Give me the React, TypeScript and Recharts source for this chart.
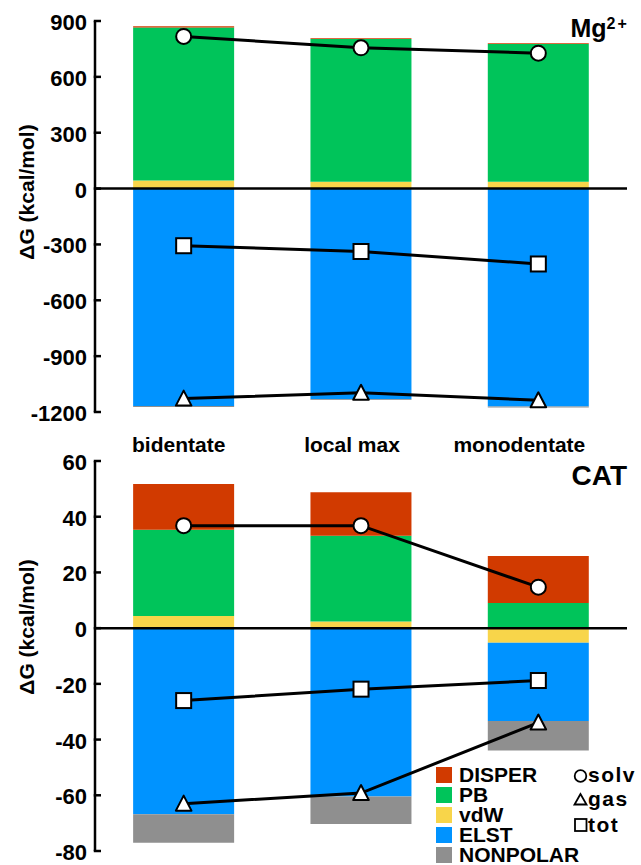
import React from 'react';
import { ComposedChart, Bar, Line, XAxis, YAxis, ReferenceLine } from 'recharts';

// Binding states along the pathway
const categories = ['bidentate', 'local max', 'monodentate'];

// Mg2+ free-energy decomposition (kcal/mol)
const mgDisper = [7, 5, 5];
const mgPB = [822, 767, 740];
const mgVdw = [43, 36, 36];
const mgElst = [-1168, -1131, -1171];
const mgNonpolar = [-5, -5, -5];
const mgSolv = [817, 756, 727];
const mgGas = [-1128, -1097, -1137];
const mgTot = [-307, -338, -405];

// CAT free-energy decomposition (kcal/mol)
const catDisper = [16.4, 15.6, 16.9];
const catPB = [30.9, 30.8, 9.0];
const catVdw = [4.4, 2.4, -5.2];
const catElst = [-66.8, -60.4, -28.1];
const catNonpolar = [-10.2, -9.9, -10.6];
const catSolv = [36.8, 36.8, 14.7];
const catGas = [-63.0, -59.2, -33.9];
const catTot = [-26.0, -21.9, -18.8];

// Axis ticks
const mgTicks = [-1200, -900, -600, -300, 0, 300, 600, 900];
const catTicks = [-80, -60, -40, -20, 0, 20, 40, 60];

// Energy terms, legend order
const terms = ['DISPER', 'PB', 'vdW', 'ELST', 'NONPOLAR'];
// Stacking order: nearest to zero first on each side
const stackOrder = ['vdW', 'ELST', 'NONPOLAR', 'PB', 'DISPER'];
const totals = ['solv', 'gas', 'tot'];

const COLORS: Record<string, string> = {
  DISPER: '#D13A00',
  PB: '#00C45A',
  vdW: '#F8D54A',
  ELST: '#0093FF',
  NONPOLAR: '#8F8F8F',
};

const FONT = '"Liberation Sans", Arial, Helvetica, sans-serif';
const LABEL_SHIFT = [-5, -9, -19];

function buildRows(
  disper: number[], pb: number[], vdw: number[], elst: number[], nonpolar: number[],
  solv: number[], gas: number[], tot: number[]
) {
  return categories.map((name, i) => ({
    name,
    DISPER: disper[i],
    PB: pb[i],
    vdW: vdw[i],
    ELST: elst[i],
    NONPOLAR: nonpolar[i],
    solv: solv[i],
    gas: gas[i],
    tot: tot[i],
  }));
}

const mgRows = buildRows(mgDisper, mgPB, mgVdw, mgElst, mgNonpolar, mgSolv, mgGas, mgTot);
const catRows = buildRows(catDisper, catPB, catVdw, catElst, catNonpolar, catSolv, catGas, catTot);

const YTick = (props: any) => {
  const { x, y, payload } = props;
  return (
    <g>
      <line x1={x - 1.25} x2={x + 6} y1={y} y2={y} stroke="#000" strokeWidth={2.5} />
      <text x={x - 8} y={y + 9} textAnchor="end" fontSize={22} fontWeight="bold" fontFamily={FONT} fill="#000">
        {payload.value}
      </text>
    </g>
  );
};

const XTick = (props: any) => {
  const { x, y, payload, index } = props;
  return (
    <text x={x + (LABEL_SHIFT[index] || 0)} y={y + 40} textAnchor="middle" fontSize={21} fontWeight="bold" fontFamily={FONT} fill="#000">
      {payload.value}
    </text>
  );
};

const CircleDot = (p: any) => {
  if (p.cx == null || p.cy == null) return null;
  return <circle key={`c${p.index}`} cx={p.cx} cy={p.cy} r={7.5} fill="#fff" stroke="#000" strokeWidth={2} />;
};

const TriangleDot = (p: any) => {
  if (p.cx == null || p.cy == null) return null;
  const { cx, cy } = p;
  return (
    <polygon
      key={`t${p.index}`}
      points={`${cx},${cy - 8} ${cx - 7.8},${cy + 7} ${cx + 7.8},${cy + 7}`}
      fill="#fff"
      stroke="#000"
      strokeWidth={2}
      strokeLinejoin="round"
    />
  );
};

const SquareDot = (p: any) => {
  if (p.cx == null || p.cy == null) return null;
  return <rect key={`s${p.index}`} x={p.cx - 7.5} y={p.cy - 7.5} width={15} height={15} fill="#fff" stroke="#000" strokeWidth={2} />;
};

const DOTS: Record<string, (p: any) => any> = { solv: CircleDot, gas: TriangleDot, tot: SquareDot };

function Panel({ rows, domain, ticks, height, margin, showCategories }: any) {
  return (
    <ComposedChart
      width={641}
      height={height}
      data={rows}
      margin={margin}
      stackOffset="sign"
      barCategoryGap="21.5%"
    >
      <XAxis
        dataKey="name"
        hide={!showCategories}
        height={48}
        axisLine={false}
        tickLine={false}
        tickSize={0}
        tickMargin={0}
        tick={(p: any) => <XTick {...p} />}
        interval={0}
      />
      <YAxis
        type="number"
        domain={domain}
        ticks={ticks}
        interval={0}
        width={95}
        axisLine={{ stroke: '#000', strokeWidth: 2.5 }}
        tickLine={false}
        tickSize={0}
        tickMargin={0}
        tick={(p: any) => <YTick {...p} />}
        allowDataOverflow
      />
      {stackOrder.map((k) => (
        <Bar key={k} dataKey={k} stackId="a" fill={COLORS[k]} isAnimationActive={false} />
      ))}
      <ReferenceLine y={0} stroke="#000" strokeWidth={2.5} />
      {totals.map((k) => (
        <Line
          key={k}
          type="linear"
          dataKey={k}
          stroke="#000"
          strokeWidth={3}
          dot={(p: any) => DOTS[k](p)}
          activeDot={false}
          isAnimationActive={false}
        />
      ))}
    </ComposedChart>
  );
}

function Overlay() {
  const textProps = { fontFamily: FONT, fontWeight: 'bold' as const, fill: '#000' };
  return (
    <svg width={641} height={865} style={{ position: 'absolute', left: 0, top: 0, pointerEvents: 'none' }}>
      {/* axis titles */}
      <text x={33.5} y={192} transform="rotate(-90 33.5 192)" textAnchor="middle" fontSize={21} {...textProps}>
        ΔG (kcal/mol)
      </text>
      <text x={33.5} y={627} transform="rotate(-90 33.5 627)" textAnchor="middle" fontSize={21} {...textProps}>
        ΔG (kcal/mol)
      </text>
      {/* panel names */}
      <text x={570.5} y={37.3} fontSize={25} {...textProps}>
        Mg<tspan dy={-8.8} fontSize={16} letterSpacing={2}>2+</tspan>
      </text>
      <text x={627} y={484.5} textAnchor="end" fontSize={28} {...textProps}>
        CAT
      </text>
      {/* term legend */}
      {terms.map((t, i) => (
        <g key={t}>
          <rect x={436} y={767 + 20 * i} width={16} height={16} fill={COLORS[t]} />
          <text x={459} y={782 + 20 * i} fontSize={21} {...textProps}>
            {t}
          </text>
        </g>
      ))}
      {/* marker legend */}
      <circle cx={580.5} cy={776} r={5.8} fill="#fff" stroke="#000" strokeWidth={1.8} />
      <polygon points="580.5,794 574.5,804.5 586.5,804.5" fill="#fff" stroke="#000" strokeWidth={1.8} />
      <rect x={575} y={819} width={11.5} height={12} fill="#fff" stroke="#000" strokeWidth={1.8} />
      {totals.map((t, i) => (
        <text key={t} x={588} y={[782, 806, 832][i]} fontSize={21} letterSpacing={1.5} {...textProps}>
          {t}
        </text>
      ))}
    </svg>
  );
}

export default function App() {
  return (
    <div style={{ position: 'absolute', left: 0, top: 0, width: 641, height: 865, background: '#fff', overflow: 'hidden' }}>
      <div style={{ position: 'absolute', left: 0, top: 0 }}>
        <Panel
          rows={mgRows}
          domain={[-1200, 900]}
          ticks={mgTicks}
          height={460}
          margin={{ top: 21, right: 14, bottom: 0, left: 0 }}
          showCategories
        />
      </div>
      <div style={{ position: 'absolute', left: 0, top: 440 }}>
        <Panel
          rows={catRows}
          domain={[-80, 60]}
          ticks={catTicks}
          height={425}
          margin={{ top: 21, right: 14, bottom: 14, left: 0 }}
          showCategories={false}
        />
      </div>
      <Overlay />
    </div>
  );
}
